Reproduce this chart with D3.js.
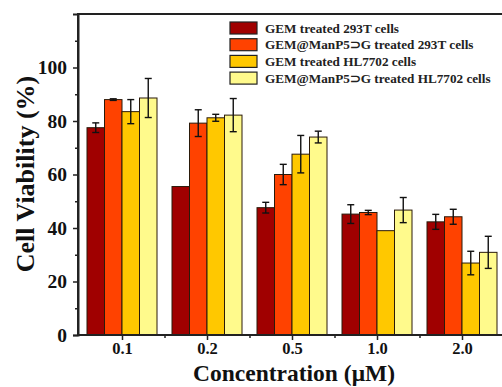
<!DOCTYPE html>
<html><head><meta charset="utf-8">
<script src="https://cdn.jsdelivr.net/npm/d3@7"></script>
<style>body{margin:0;background:#fff}svg{display:block}</style>
</head><body>
<svg id="c" width="502" height="387"></svg>
<script>
const categories = ["0.1","0.2","0.5","1.0","2.0"];
const seriesNames = ["GEM treated 293T cells","GEM@ManP5\u2283G treated 293T cells","GEM treated HL7702 cells","GEM@ManP5\u2283G treated HL7702 cells"];
const gem293T     = [77.5, 55.5, 47.6, 45.2, 42.3];
const gem293TErr  = [1.8, 0, 2.0, 3.5, 2.8];
const man293T     = [88.0, 79.2, 60.0, 45.8, 44.2];
const man293TErr  = [0.3, 5.0, 3.8, 0.8, 2.8];
const gemHL       = [83.5, 81.2, 67.6, 39.0, 26.9];
const gemHLErr    = [4.5, 1.3, 7.0, 0, 4.4];
const manHL       = [88.6, 82.2, 74.0, 46.7, 30.9];
const manHLErr    = [7.3, 6.2, 2.2, 4.7, 6.0];
const yTicks = [0,20,40,60,80,100];
const colors = ["#a00000","#ff4200","#ffc800","#fffa8c"];

const values = [gem293T, man293T, gemHL, manHL];
const errs = [gem293TErr, man293TErr, gemHLErr, manHLErr];

const svg = d3.select("#c");
const mLeft = 78, mTop = 14, mBottom = 335, mRight = 508;
const x = d3.scaleBand().domain(categories).range([80, 505]).padding(0);
const xs = d3.scaleBand().domain(d3.range(4)).range([7, x.bandwidth()-8]).padding(0);
const y = d3.scaleLinear().domain([0,120]).range([mBottom, mTop]);

const serif = "'Liberation Serif','Times New Roman',serif";

// bars
const data = [];
categories.forEach((c,i)=>values.forEach((v,s)=>data.push({c, s, v:v[i], e:errs[s][i]})));
svg.append("g").selectAll("rect").data(data).join("rect")
  .attr("x", d=>x(d.c)+xs(d.s)).attr("width", xs.bandwidth())
  .attr("y", d=>y(d.v)).attr("height", d=>y(0)-y(d.v))
  .attr("fill", d=>colors[d.s]).attr("stroke","#2a1a0a").attr("stroke-width",1);

// error bars
const eg = svg.append("g").attr("stroke","#111").attr("stroke-width",1.4);
data.filter(d=>d.e>0).forEach(d=>{
  const cx = x(d.c)+xs(d.s)+xs.bandwidth()/2;
  eg.append("line").attr("x1",cx).attr("x2",cx).attr("y1",y(d.v+d.e)).attr("y2",y(d.v-d.e));
  eg.append("line").attr("x1",cx-3.5).attr("x2",cx+3.5).attr("y1",y(d.v+d.e)).attr("y2",y(d.v+d.e));
  eg.append("line").attr("x1",cx-3.5).attr("x2",cx+3.5).attr("y1",y(d.v-d.e)).attr("y2",y(d.v-d.e));
});

// frame
svg.append("path").attr("d",`M${mLeft},${mBottom}V${mTop}H${mRight}`).attr("fill","none").attr("stroke","#222").attr("stroke-width",2);

// y axis
const yAxis = d3.axisLeft(y).tickValues(yTicks).tickSize(5).tickPadding(6).tickFormat(d3.format("d"));
const ya = svg.append("g").attr("transform",`translate(${mLeft},0)`).call(yAxis);
ya.select(".domain").attr("stroke","#222").attr("stroke-width",2);
ya.selectAll(".tick line").attr("stroke","#222").attr("stroke-width",1.5);
ya.selectAll("text").attr("font-family",serif).attr("font-weight","bold").attr("font-size",19.5).attr("fill","#111");
const yMinor = d3.axisLeft(y).tickValues([10,30,50,70,90,110]).tickSize(3).tickFormat("");
const ym = svg.append("g").attr("transform",`translate(${mLeft},0)`).call(yMinor);
ym.select(".domain").remove();
ym.selectAll(".tick line").attr("stroke","#222").attr("stroke-width",1.5);

// x axis
const xAxis = d3.axisBottom(x).tickSize(5).tickPadding(2);
const xa = svg.append("g").attr("transform",`translate(0,${mBottom})`).call(xAxis);
xa.select(".domain").remove();
svg.append("line").attr("x1",mLeft).attr("x2",mRight).attr("y1",mBottom).attr("y2",mBottom).attr("stroke","#222").attr("stroke-width",2);
xa.selectAll(".tick line").attr("stroke","#222").attr("stroke-width",1.5);
xa.selectAll("text").attr("font-family",serif).attr("font-weight","bold").attr("font-size",16.5).attr("fill","#111");
const xm = svg.append("g").attr("transform",`translate(0,${mBottom})`);
xm.selectAll("line").data(categories.slice(1)).join("line")
  .attr("x1",d=>x(d)).attr("x2",d=>x(d)).attr("y1",0).attr("y2",3).attr("stroke","#222").attr("stroke-width",1.5);

// axis titles
svg.append("text").attr("x",294).attr("y",381).attr("text-anchor","middle")
  .attr("font-family",serif).attr("font-weight","bold").attr("font-size",23.5).attr("fill","#111")
  .text("Concentration (\u03bcM)");
svg.append("text").attr("transform","translate(34,174) rotate(-90)").attr("text-anchor","middle")
  .attr("font-family",serif).attr("font-weight","bold").attr("font-size",26).attr("fill","#111")
  .text("Cell Viability (%)");

// legend
const lg = svg.append("g");
seriesNames.forEach((n,i)=>{
  const yy = 22 + i*16.7;
  lg.append("rect").attr("x",230).attr("y",yy).attr("width",27).attr("height",12)
    .attr("fill",colors[i]).attr("stroke","#222").attr("stroke-width",1.2);
  lg.append("text").attr("x",265).attr("y",yy+10.5).attr("font-family",serif).attr("font-weight","bold")
    .attr("font-size",13.2).attr("fill","#222").text(n);
});
</script>
</body></html>
